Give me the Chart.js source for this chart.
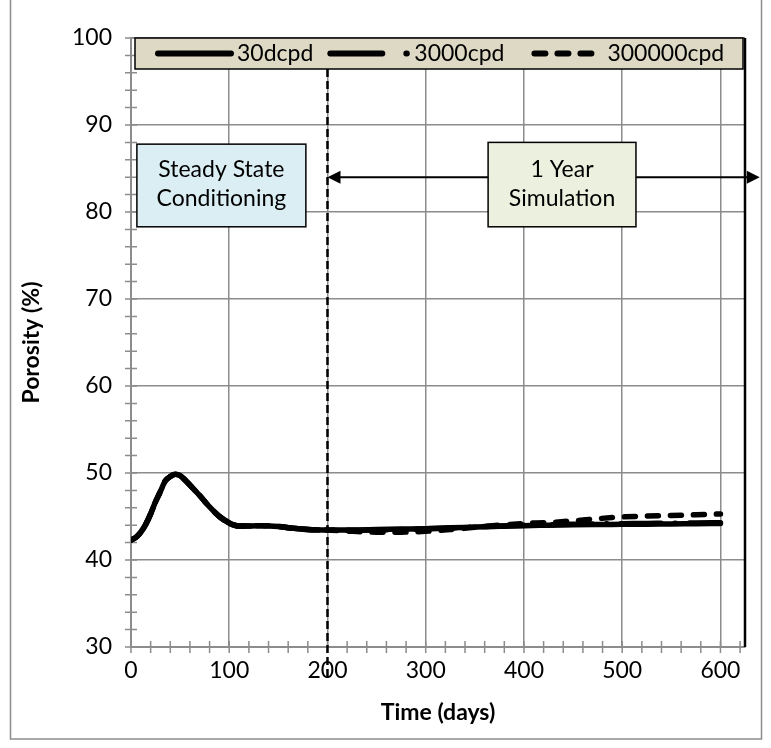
<!DOCTYPE html>
<html>
<head>
<meta charset="utf-8">
<script src="https://cdn.jsdelivr.net/npm/chart.js@4/dist/chart.umd.min.js"></script>
<style>
  html, body { margin: 0; padding: 0; background: #fff; }
</style>
</head>
<body>
<canvas id="porosity" width="771" height="748"></canvas>
<script>
// Time axis (days), shared by the three runs
const days = [0, 5, 10, 15, 20, 25, 30, 35, 40, 45, 50, 55, 60, 70, 80, 90, 100, 105, 110, 120,
              135, 150, 165, 180, 200, 225, 250, 275, 300, 325, 350, 375, 400, 425, 450, 475,
              500, 525, 550, 575, 600];

// Porosity (%)
const run30dcpd = [42.3, 42.6, 43.2, 44.1, 45.3, 46.7, 47.9, 49.1, 49.6, 49.85, 49.7, 49.2, 48.6, 47.4, 46.1, 45.0, 44.25, 44.0, 43.9, 43.9,
                   43.95, 43.85, 43.65, 43.5, 43.45, 43.45, 43.5, 43.55, 43.6, 43.7, 43.78, 43.87, 43.95, 44.0, 44.05, 44.08,
                   44.1, 44.12, 44.15, 44.17, 44.2];
const run3000cpd = [42.3, 42.6, 43.2, 44.1, 45.3, 46.7, 47.9, 49.1, 49.6, 49.85, 49.7, 49.2, 48.6, 47.4, 46.1, 45.0, 44.25, 44.0, 43.9, 43.9,
                    43.95, 43.85, 43.65, 43.5, 43.45, 43.42, 43.45, 43.5, 43.58, 43.68, 43.8, 43.9, 44.0, 44.05, 44.1, 44.15,
                    44.18, 44.2, 44.23, 44.25, 44.28];
const run300000cpd = [42.3, 42.6, 43.2, 44.1, 45.3, 46.7, 47.9, 49.1, 49.6, 49.85, 49.7, 49.2, 48.6, 47.4, 46.1, 45.0, 44.25, 44.0, 43.9, 43.9,
                      43.95, 43.85, 43.65, 43.5, 43.45, 43.3, 43.2, 43.2, 43.3, 43.5, 43.75, 44.0, 44.2, 44.3, 44.5, 44.75,
                      44.95, 45.05, 45.12, 45.2, 45.3];

const seriesNames = ['30dcpd', '3000cpd', '300000cpd'];

// Axis ranges and ticks
const xMin = 0, xMax = 625, xMajor = 100, xMinor = 20, xLastLabel = 600;
const yMin = 30, yMax = 100, yMajor = 10, yMinor = 2;

// Annotations, in data units
const startOfRun = 200;
const steadyBox = { x0: 6, x1: 178, top: 87.8, bottom: 78.3, lines: ['Steady State', 'Conditioning'], fill: '#dbeef4' };
const simBox = { x0: 363.5, x1: 514, top: 88.0, bottom: 78.3, lines: ['1 Year', 'Simulation'], fill: '#ebf1de' };
const arrow = { from: 200, to: 640, y: 84 };

const gridGrey = '#8c8c8c';
const fontSize = 23;
const textFont = fontSize + 'px Lato';

Chart.defaults.font.family = 'Lato';
Chart.defaults.color = '#000';

function pairs(ys) {
    return days.map((d, i) => ({ x: d, y: ys[i] }));
}

function drawBox(ctx, chart, box) {
    let x = chart.scales.x, y = chart.scales.y;
    let l = x.getPixelForValue(box.x0), r = x.getPixelForValue(box.x1);
    let t = y.getPixelForValue(box.top), b = y.getPixelForValue(box.bottom);
    ctx.fillStyle = box.fill;
    ctx.fillRect(l, t, r - l, b - t);
    ctx.strokeStyle = '#000';
    ctx.lineWidth = 1.5;
    ctx.strokeRect(l, t, r - l, b - t);
    ctx.fillStyle = '#000';
    ctx.font = textFont;
    ctx.textAlign = 'center';
    ctx.textBaseline = 'middle';
    let cx = (l + r) / 2, cy = (t + b) / 2 - 1;
    ctx.fillText(box.lines[0], cx, cy - 14.5);
    ctx.fillText(box.lines[1], cx, cy + 14.5);
}

function arrowHead(ctx, x, y, dir) {
    ctx.beginPath();
    ctx.moveTo(x, y);
    ctx.lineTo(x - dir * 13, y - 6.5);
    ctx.lineTo(x - dir * 13, y + 6.5);
    ctx.closePath();
    ctx.fill();
}

const annotations = {
    id: 'annotations',
    beforeDraw(chart) {
        // outer chart frame
        let ctx = chart.ctx;
        ctx.save();
        ctx.strokeStyle = gridGrey;
        ctx.lineWidth = 1.5;
        ctx.strokeRect(10.5, -5, 751, 744);
        ctx.restore();
    },
    beforeDatasetsDraw(chart) {
        // Excel style tick marks that cross the axes
        let ctx = chart.ctx, area = chart.chartArea;
        let x = chart.scales.x, y = chart.scales.y;
        ctx.save();
        ctx.strokeStyle = gridGrey;
        ctx.lineWidth = 1.5;
        ctx.beginPath();
        for (let v = xMin; v <= xMax; v += xMinor) {
            let px = x.getPixelForValue(v);
            ctx.moveTo(px, area.bottom - 6);
            ctx.lineTo(px, area.bottom + 6);
        }
        for (let v = yMin; v <= yMax; v += yMinor) {
            let py = y.getPixelForValue(v);
            ctx.moveTo(area.left - 6, py);
            ctx.lineTo(area.left + 6, py);
        }
        ctx.stroke();
        ctx.restore();
    },
    afterDatasetsDraw(chart) {
        let ctx = chart.ctx, area = chart.chartArea;
        let x = chart.scales.x, y = chart.scales.y;
        let legendH = 31;
        ctx.save();

        // right edge of plot area
        ctx.strokeStyle = '#000';
        ctx.lineWidth = 2.5;
        ctx.beginPath();
        ctx.moveTo(area.right, area.top);
        ctx.lineTo(area.right, area.bottom);
        ctx.stroke();

        // start of the one year run
        let sx = x.getPixelForValue(startOfRun);
        ctx.lineWidth = 2.5;
        ctx.setLineDash([8, 4]);
        ctx.beginPath();
        ctx.moveTo(sx, area.top + legendH);
        ctx.lineTo(sx, area.bottom + 30);
        ctx.stroke();
        ctx.setLineDash([]);

        // double arrow
        let ay = y.getPixelForValue(arrow.y);
        let a0 = x.getPixelForValue(arrow.from), a1 = x.getPixelForValue(arrow.to);
        ctx.lineWidth = 2;
        ctx.beginPath();
        ctx.moveTo(a0 + 6, ay);
        ctx.lineTo(a1 - 6, ay);
        ctx.stroke();
        ctx.fillStyle = '#000';
        arrowHead(ctx, a0, ay, -1);
        arrowHead(ctx, a1, ay, 1);

        drawBox(ctx, chart, steadyBox);
        drawBox(ctx, chart, simBox);

        // legend strip along the top of the plot
        let ll = area.left + 4, lr = area.right - 2, lt = area.top;
        ctx.fillStyle = '#ddd9c4';
        ctx.fillRect(ll, lt, lr - ll, legendH);
        ctx.strokeStyle = '#000';
        ctx.lineWidth = 1.5;
        ctx.strokeRect(ll, lt, lr - ll, legendH);

        let ly = lt + legendH / 2;
        let lx = ll + 23;
        ctx.font = textFont;
        ctx.textBaseline = 'middle';
        ctx.textAlign = 'left';
        chart.data.datasets.forEach(ds => {
            ctx.strokeStyle = '#000';
            ctx.lineWidth = 6;
            ctx.lineCap = 'round';
            ctx.setLineDash(ds.legendDash);
            ctx.beginPath();
            ctx.moveTo(lx, ly);
            ctx.lineTo(lx + ds.legendWidth, ly);
            ctx.stroke();
            ctx.setLineDash([]);
            lx += ds.legendWidth + ds.legendGap;
            ctx.fillStyle = '#000';
            ctx.fillText(ds.label, lx, ly);
            lx += ctx.measureText(ds.label).width + ds.legendAfter;
        });
        ctx.restore();
    }
};

const ctx = document.getElementById('porosity');
const porosityChart = new Chart(ctx, {
    type: 'line',
    data: {
        datasets: [{
            label: seriesNames[0],
            data: pairs(run30dcpd),
            borderColor: '#000',
            borderWidth: 5.5,
            borderCapStyle: 'round',
            legendDash: [],
            legendWidth: 73,
            legendGap: 6,
            legendAfter: 17,
            order: 3,
        }, {
            label: seriesNames[1],
            data: pairs(run3000cpd),
            borderColor: '#000',
            borderWidth: 5.5,
            borderCapStyle: 'round',
            borderDash: [40, 14, 0.5, 14],
            legendDash: [52, 24, 0.5, 30],
            legendWidth: 77,
            legendGap: 7,
            legendAfter: 30,
            order: 2,
        }, {
            label: seriesNames[2],
            data: pairs(run300000cpd),
            borderColor: '#000',
            borderWidth: 5.5,
            borderCapStyle: 'round',
            borderDash: [11, 12],
            legendDash: [11, 12],
            legendWidth: 58,
            legendGap: 15,
            legendAfter: 0,
            order: 1,
        }]
    },
    options: {
        responsive: false,
        animation: false,
        elements: {
            point: { radius: 0 },
            line: { cubicInterpolationMode: 'monotone' },
        },
        layout: {
            padding: { left: 0, right: 26, top: 38, bottom: 0 }
        },
        plugins: {
            legend: { display: false },
            tooltip: { enabled: false },
        },
        scales: {
            x: {
                type: 'linear',
                min: xMin,
                max: xMax,
                afterFit: scale => { scale.height = 101; },
                afterBuildTicks: scale => {
                    let t = [];
                    for (let v = xMin; v <= xLastLabel; v += xMajor) t.push({ value: v });
                    scale.ticks = t;
                },
                ticks: {
                    padding: 10,
                    maxRotation: 0,
                    autoSkip: false,
                    font: { size: fontSize },
                },
                grid: {
                    drawTicks: false,
                    lineWidth: 1.5,
                    color: gridGrey,
                },
                border: { color: gridGrey, width: 2 },
                title: {
                    display: true,
                    text: 'Time (days)',
                    font: { size: fontSize, weight: 'bold' },
                    padding: { top: 0, bottom: 22 },
                },
            },
            y: {
                min: yMin,
                max: yMax,
                afterFit: scale => { scale.width = 131; },
                ticks: {
                    stepSize: yMajor,
                    padding: 19,
                    font: { size: fontSize },
                },
                grid: {
                    drawTicks: false,
                    lineWidth: 1.5,
                    color: gridGrey,
                },
                border: { color: gridGrey, width: 2 },
                title: {
                    display: true,
                    text: 'Porosity (%)',
                    font: { size: fontSize, weight: 'bold' },
                    padding: { top: 18, bottom: 0 },
                },
            },
        },
    },
    plugins: [annotations],
});
</script>
</body>
</html>
